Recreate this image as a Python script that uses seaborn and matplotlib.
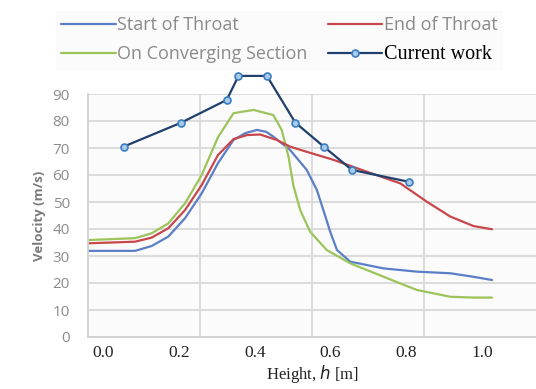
import numpy as np
import pandas as pd
import matplotlib
matplotlib.use("Agg")
import matplotlib.pyplot as plt
import seaborn as sns

# --- dane ---
start_x = [-0.040, 0.084, 0.128, 0.172, 0.216, 0.260, 0.303, 0.344, 0.375, 0.406,
           0.430, 0.449, 0.493, 0.537, 0.564, 0.581, 0.599, 0.617, 0.652, 0.740,
           0.828, 0.916, 0.977, 1.026]
start_v = [31.9, 31.9, 33.7, 37.2, 44.0, 53.2, 64.4, 73.0, 75.5, 76.7,
           76.0, 74.2, 69.3, 61.9, 54.4, 47.0, 39.0, 32.2, 27.9, 25.4,
           24.2, 23.6, 22.3, 21.1]

end_x = [-0.040, 0.084, 0.128, 0.172, 0.216, 0.260, 0.303, 0.344, 0.380, 0.414,
         0.458, 0.493, 0.537, 0.608, 0.696, 0.784, 0.854, 0.916, 0.977, 1.026]
end_v = [34.7, 35.3, 36.8, 40.3, 47.0, 56.3, 67.4, 73.3, 74.8, 75.0,
         73.0, 70.5, 68.6, 65.6, 61.2, 56.9, 50.1, 44.6, 41.1, 39.9]

conv_x = [-0.040, 0.084, 0.128, 0.172, 0.216, 0.260, 0.303, 0.344, 0.397, 0.449,
          0.471, 0.489, 0.502, 0.520, 0.546, 0.590, 0.652, 0.740, 0.828, 0.916,
          0.977, 1.026]
conv_v = [35.9, 36.6, 38.4, 42.1, 49.5, 60.0, 74.0, 82.9, 84.1, 82.2,
          76.7, 66.8, 56.0, 47.0, 39.0, 32.2, 27.3, 22.3, 17.4, 14.9,
          14.6, 14.6]

current_x = [0.054, 0.206, 0.326, 0.357, 0.432, 0.507, 0.583, 0.656, 0.806]
current_v = [70.5, 79.4, 87.8, 96.7, 96.7, 79.4, 70.4, 61.9, 57.5]

x_ticks = [0.0, 0.2, 0.4, 0.6, 0.8, 1.0]
y_ticks = [0, 10, 20, 30, 40, 50, 60, 70, 80, 90]

df_start = pd.DataFrame({"h": start_x, "v": start_v})
df_end = pd.DataFrame({"h": end_x, "v": end_v})
df_conv = pd.DataFrame({"h": conv_x, "v": conv_v})
df_cur = pd.DataFrame({"h": current_x, "v": current_v})

sns.set_style("white")

fig = plt.figure(figsize=(5.36, 3.89), dpi=100)
ax = fig.add_axes([88 / 536, 1 - 337 / 389, (536 - 88) / 536, (337 - 94) / 389])
ax.set_facecolor("#fbfbfc")

sns.lineplot(data=df_start, x="h", y="v", ax=ax, color="#5b7fc6", lw=1.6,
             sort=False, label="Start of Throat")
sns.lineplot(data=df_conv, x="h", y="v", ax=ax, color="#9bc45a", lw=1.6,
             sort=False, label="On Converging Section")
sns.lineplot(data=df_end, x="h", y="v", ax=ax, color="#c8474a", lw=1.6,
             sort=False, label="End of Throat")
sns.lineplot(data=df_cur, x="h", y="v", ax=ax, color="#1f3f6e", lw=1.6,
             marker="o", markersize=5, markerfacecolor="#a9cbe8",
             markeredgecolor="#3a7dc0", markeredgewidth=1.2,
             sort=False, label="Current work", clip_on=False, zorder=5)

ax.set_xlim(-0.04, 1.142)
ax.set_ylim(0, 90)
ax.set_xticks(x_ticks)
ax.set_xticklabels([f"{t:.1f}" for t in x_ticks], fontfamily="Liberation Serif",
                   fontsize=12.5, color="#222222")
ax.set_yticks(y_ticks)
ax.set_yticklabels([str(t) for t in y_ticks], fontfamily="Open Sans",
                   fontsize=11, color="#8c8c8c")
ax.tick_params(axis="both", length=0)
ax.tick_params(axis="y", pad=13)
ax.tick_params(axis="x", pad=6)

# siatka w stylu Excela (pionowe linie nie pokrywają się z etykietami)
ax.set_xticks([0.2555, 0.551, 0.8465], minor=True)
ax.tick_params(axis="x", which="minor", length=0)
ax.grid(axis="y", which="major", color="#d9d9d9", lw=1.3)
ax.grid(axis="x", which="minor", color="#d9d9d9", lw=1.3)
ax.grid(axis="x", which="major", visible=False)
ax.set_axisbelow(True)

for s in ["top", "right"]:
    ax.spines[s].set_visible(False)
for s in ["left", "bottom"]:
    ax.spines[s].set_color("#d0d0d0")
    ax.spines[s].set_linewidth(1.3)

ax.set_xlabel("Height, $h$ [m]", fontfamily="Liberation Serif", fontsize=12,
              color="#222222", labelpad=1)
ax.set_ylabel("Velocity (m/s)", fontfamily="Open Sans", fontweight="bold",
              fontsize=9.5, color="#7a7a7a", labelpad=5)

handles, labels = ax.get_legend_handles_labels()
ax.get_legend().remove()
leg = fig.legend(handles, labels, ncol=2, loc="upper left",
                 bbox_to_anchor=(47 / 536, 1 - 2 / 389),
                 frameon=True, facecolor="#fafafa", edgecolor="none",
                 prop={"family": "Open Sans", "size": 13},
                 handlelength=3.0, handletextpad=0.1, columnspacing=1.1,
                 labelspacing=0.6, borderpad=0.3, fancybox=False)
for t in leg.get_texts():
    t.set_color("#8a8a8a")
    if t.get_text() == "Current work":
        t.set_color("black")
        t.set_fontfamily("Liberation Serif")
        t.set_fontsize(14.5)

plt.savefig("out.png", dpi=100)
plt.close()
